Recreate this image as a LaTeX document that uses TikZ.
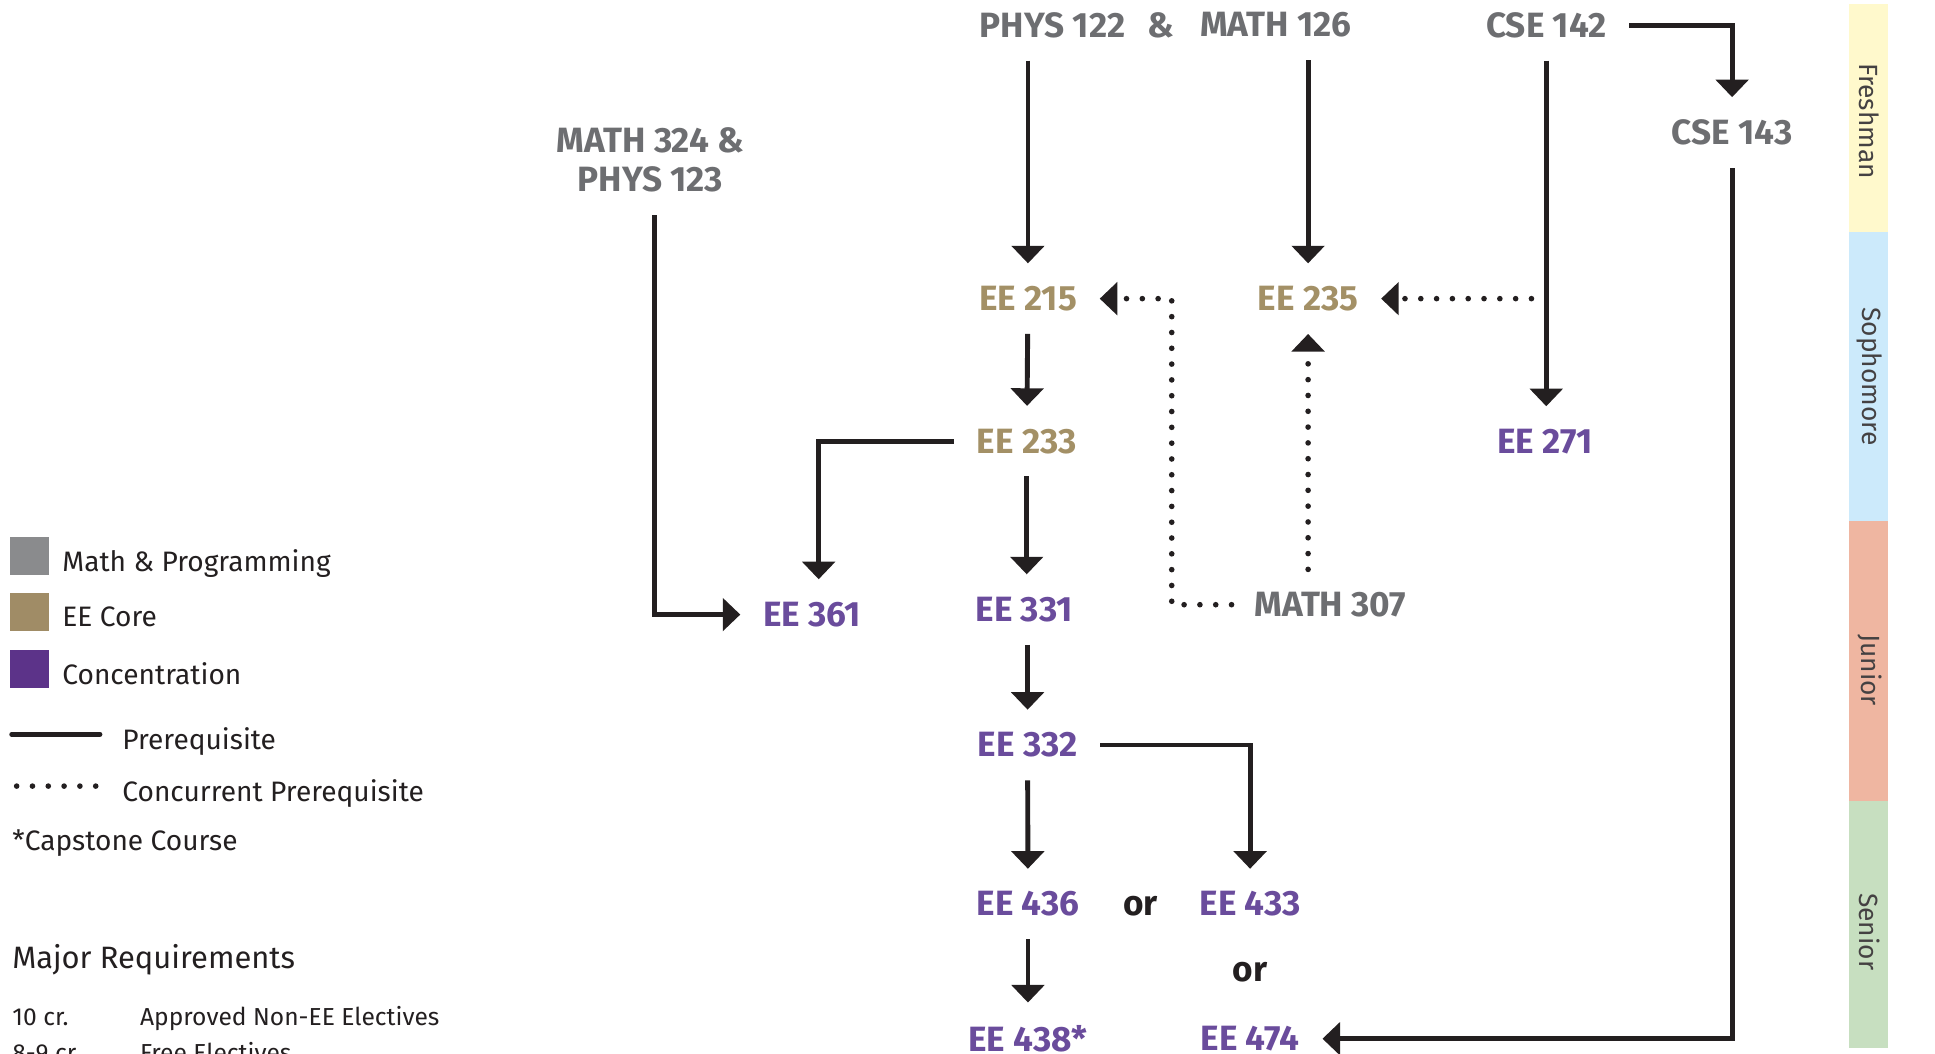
\documentclass[tikz,border=0pt]{standalone}
\usepackage{fontspec}
\setmainfont{Fira Sans}
\usetikzlibrary{arrows.meta,positioning}

\definecolor{mathgrey}{HTML}{6D6E71}
\definecolor{coretan}{HTML}{A39066}
\definecolor{concpurple}{HTML}{6A4C9C}
\definecolor{swgrey}{HTML}{8A8B8D}
\definecolor{swtan}{HTML}{A08C66}
\definecolor{swpurple}{HTML}{5C3389}
\definecolor{linedark}{HTML}{231F20}
\definecolor{yfresh}{HTML}{FFF9CC}
\definecolor{ysoph}{HTML}{CCEAFB}
\definecolor{yjun}{HTML}{EFB6A1}
\definecolor{ysen}{HTML}{C7DFC0}

\begin{document}
\begin{tikzpicture}[
    x=0.01234cm, y=-0.01234cm,
    course/.style={font=\fontsize{10}{11.2}\selectfont\bfseries, inner sep=0pt, outer sep=6.5pt, align=center},
    mathc/.style={course, text=mathgrey},
    corec/.style={course, text=coretan},
    concc/.style={course, text=concpurple},
    ortext/.style={course, text=linedark},
    prereq/.style={-{Triangle[width=9.2pt,length=5pt]}, line width=1.4pt, draw=linedark},
    concur/.style={-{Triangle[width=9.2pt,length=5pt]}, line width=1.6pt, draw=linedark, dash pattern=on 0pt off 4.5pt, line cap=round},
    legtext/.style={font=\fontsize{8}{10}\selectfont, text=linedark, anchor=base west, inner sep=0pt},
    credtext/.style={font=\fontsize{7}{8.5}\selectfont, text=linedark, anchor=base west, inner sep=0pt},
    yeartext/.style={font=\fontsize{7.5}{9}\selectfont, text=linedark!85, rotate=-90, inner sep=0pt}
]
\useasboundingbox (0,0) rectangle (1568,854);

% Year bar
\fill[yfresh] (1498.5,3.3) rectangle (1529.7,187.7);
\fill[ysoph] (1498.5,187.7) rectangle (1529.7,422);
\fill[yjun] (1498.5,422) rectangle (1529.7,649);
\fill[ysen] (1498.5,649) rectangle (1529.7,849.5);
\node[yeartext] (fresh) at (1515,98) {Freshman};
\node[yeartext] (soph) at (1515,305) {Sophomore};
\node[yeartext] (jun) at (1515,543) {Junior};
\node[yeartext] (sen) at (1515,755) {Senior};

% Courses
\node[mathc] (phys122) at (853,20.3) {PHYS 122};
\node[mathc] (amp) at (941,20.3) {\&};
\node[mathc] (math126) at (1034,20.3) {MATH 126};
\node[mathc] (cse142) at (1253,20.3) {CSE 142};
\node[mathc] (cse143) at (1403.6,107.6) {CSE 143};
\node[mathc] (math324) at (527,129.5) {MATH 324 \&\\PHYS 123};
\node[corec] (ee215) at (833,242) {EE 215};
\node[corec] (ee235) at (1060,242) {EE 235};
\node[corec] (ee233) at (832,357.5) {EE 233};
\node[concc] (ee271) at (1252,357.8) {EE 271};
\node[concc] (ee361) at (658,498) {EE 361};
\node[concc] (ee331) at (830,494) {EE 331};
\node[mathc] (math307) at (1078,490) {MATH 307};
\node[concc] (ee332) at (832.7,603.7) {EE 332};
\node[concc] (ee436) at (833,732.6) {EE 436};
\node[ortext] (or1) at (924.4,734) {or};
\node[concc] (ee433) at (1013,732.6) {EE 433};
\node[ortext] (or2) at (1013,788) {or};
\node[concc] (ee438) at (833,841.7) {EE 438*};
\node[concc] (ee474) at (1013,841.7) {EE 474};

\coordinate (bend) at (949.5,242);
\coordinate (tap) at (1241,242);

% Prerequisites
\draw[prereq] (ee215.north |- phys122.south) -- (ee215.north);
\draw[prereq] (ee235.north |- math126.south) -- (ee235.north);
\draw[prereq] (cse142.east) -| (cse143.north);
\draw[prereq] (cse142.south) -- (cse142.south |- ee271.north);
\draw[prereq] (cse143.south) |- (ee474.east);
\draw[prereq] ([xshift=1.1pt]math324.south) |- (ee361.west);
\draw[prereq] (ee233.west) -| ([xshift=1.9pt]ee361.north);
\draw[prereq] (ee215) -- (ee233);
\draw[prereq] (ee233) -- (ee233 |- ee331.north);
\draw[prereq] (ee332 |- ee331.south) -- (ee332);
\draw[prereq] (ee332) -- (ee436);
\draw[prereq] (ee332.east) -| (ee433.north);
\draw[prereq] (ee436) -- (ee438);

% Concurrent prerequisites
\draw[concur] (math307.west) -| (bend) -- (ee215.east);
\draw[concur] (ee235.south |- math307.north) -- (ee235.south);
\draw[concur] (tap) -- (ee235.east);

% Legend
\fill[swgrey] (8,435) rectangle (40,466);
\fill[swtan] (8,480.5) rectangle (40,511);
\fill[swpurple] (8,527) rectangle (40,557.6);
\node[legtext] (lgmath) at (50,463) {Math \& Programming};
\node[legtext] (lgcore) at (50,507.5) {EE Core};
\node[legtext] (lgconc) at (50,555) {Concentration};
\draw[line width=1.4pt, line cap=round, draw=linedark] (9.5,595) -- (81,595);
\draw[line width=1.6pt, draw=linedark, dash pattern=on 0pt off 4.5pt, line cap=round] (13.5,637) -- (78,637);
\node[legtext] (lgpre) at (98.6,607.5) {Prerequisite};
\node[legtext] (lgconcur) at (98.6,649.5) {Concurrent Prerequisite};
\node[legtext] (lgcap) at (9.5,689) {*Capstone Course};

% Major requirements
\node[legtext, font=\fontsize{8.8}{10}\selectfont] (major) at (9.5,785) {Major Requirements};
\node[credtext] (cr10) at (9.5,830.6) {10 cr.};
\node[credtext] (nonee) at (113,830.6) {Approved Non-EE Electives};
\node[credtext] (cr89) at (9.5,860) {8-9 cr.};
\node[credtext] (free) at (113,860) {Free Electives};

\end{tikzpicture}
\end{document}
